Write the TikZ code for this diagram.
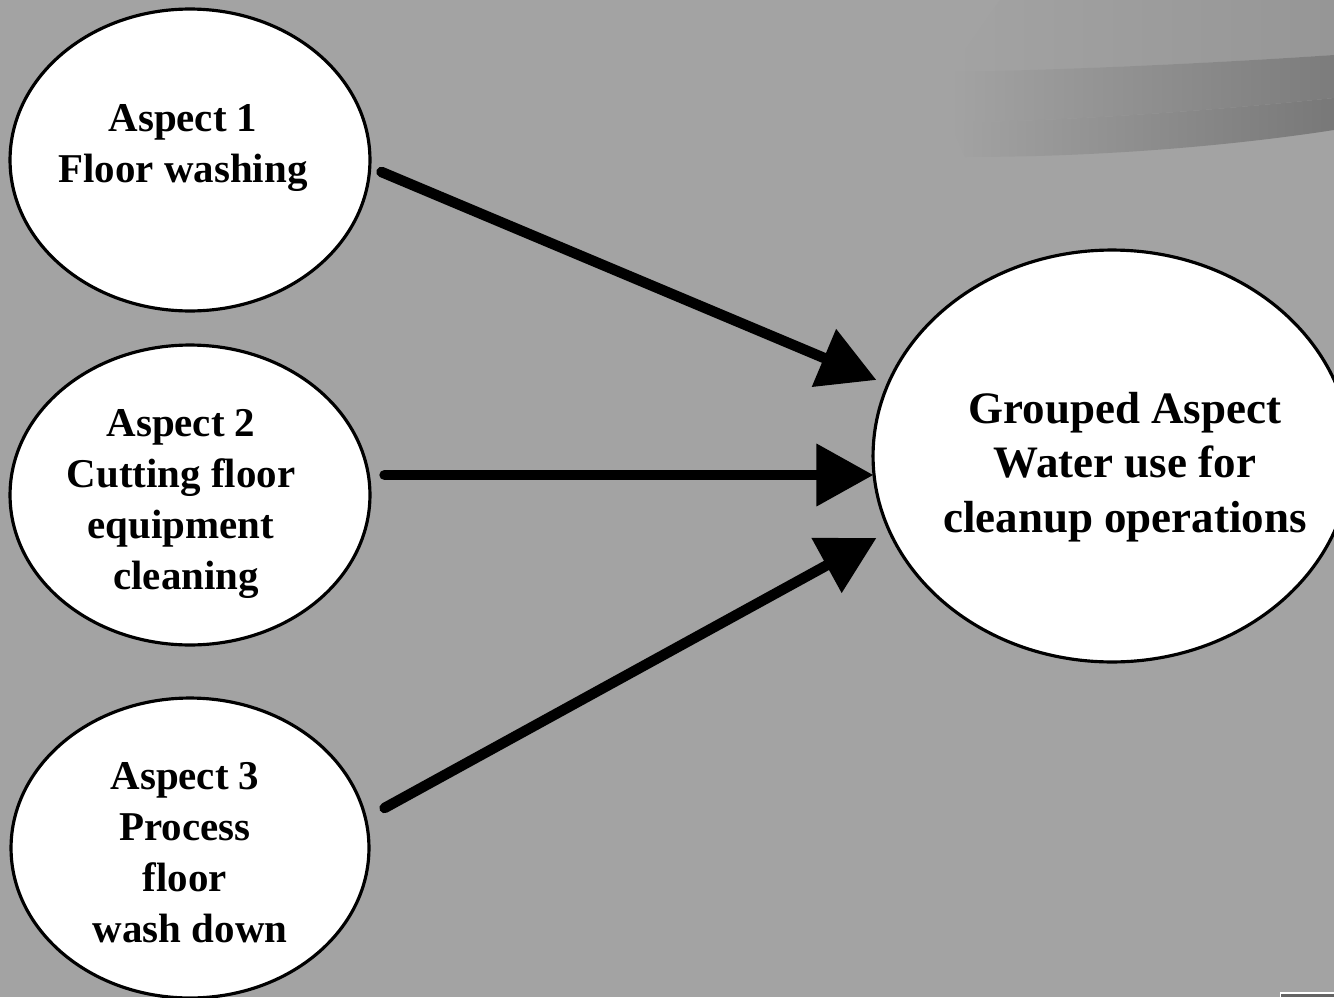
\documentclass[tikz,border=0pt]{standalone}
\usepackage{fontspec}
\setmainfont{Liberation Serif}
\usetikzlibrary{shapes.geometric,arrows.meta,calc}
\definecolor{slide}{RGB}{163,163,163}
\definecolor{swooshtop}{RGB}{150,150,150}
\definecolor{swooshmid}{RGB}{124,124,124}
\definecolor{swooshlow}{RGB}{120,120,120}
\definecolor{cornerdark}{RGB}{100,100,100}
\begin{document}
\begin{tikzpicture}[x=0.02cm,y=-0.02cm,
  bubble/.style={ellipse, draw=black, fill=white, line width=1.8pt, inner sep=0pt},
  aspecttext/.style={align=center, inner sep=0pt,
    font=\fontsize{23.3pt}{29pt}\selectfont\bfseries},
  grouptext/.style={align=center, inner sep=0pt,
    font=\fontsize{25.6pt}{31pt}\selectfont\bfseries},
  feed/.style={line width=0.21cm, line cap=round,
    -{Triangle[length=1.14cm,width=1.2cm]}}
]
\useasboundingbox (0,0) rectangle (1334,997);
% slide background
\fill[slide] (0,0) rectangle (1334,997);

% decorative swoosh, top right
\shade[left color=slide, right color=swooshtop]
  (1000,0) -- (1334,0) -- (1334,55)
  .. controls (1200,64) and (1060,70) .. (950,72) -- cycle;
\shade[left color=slide, right color=swooshmid]
  (950,72) .. controls (1060,70) and (1200,64) .. (1334,55)
  -- (1334,98) .. controls (1200,112) and (1050,122) .. (950,122) -- cycle;
\shade[left color=slide, middle color={rgb,255:red,152;green,152;blue,152}, right color=swooshlow]
  (950,122) .. controls (1050,122) and (1200,112) .. (1334,98)
  -- (1334,130) .. controls (1230,146) and (1100,157) .. (965,157) -- cycle;

% small corner tab, bottom right
\fill[white] (1280,992) rectangle (1334,997);
\fill[cornerdark] (1281,993.5) rectangle (1334,997);

% aspect bubbles
\node[bubble, minimum width=7.2cm, minimum height=6.04cm] (a1) at (190,160) {};
\node[bubble, minimum width=7.2cm, minimum height=6cm] (a2) at (190,495) {};
\node[bubble, minimum width=7.16cm, minimum height=6cm] (a3) at (190,848) {};
\node[bubble, minimum width=9.56cm, minimum height=8.24cm] (g) at (1112,456) {};

% bubble texts
\node[aspecttext] (t1) at (183,148) {Aspect 1\\Floor washing};
\node[aspecttext] (t2) at (181,504) {Aspect 2\\Cutting floor\\equipment\\\hspace*{0.25em}cleaning};
\node[aspecttext] (t3) at (185,853) {Aspect 3\\Process\hspace*{0.25em}\\floor\hspace*{0.25em}\\\hspace*{0.25em}wash down};
\node[grouptext] (tg) at (1125,467) {Grouped Aspect\\Water use for\hspace*{0.3em}\\cleanup operations};

% connectors into the grouped aspect
\draw[feed] ($(a1.east)+(10,12)$) -- ($(g.west)+(5,-76)$);
\draw[feed] ($(a2.east)+(13,-20)$) -- ($(g.west)+(2,19)$);
\draw[feed] ($(a3.east)+(14,-40)$) -- ($(g.west)+(5,82)$);
\end{tikzpicture}
\end{document}
